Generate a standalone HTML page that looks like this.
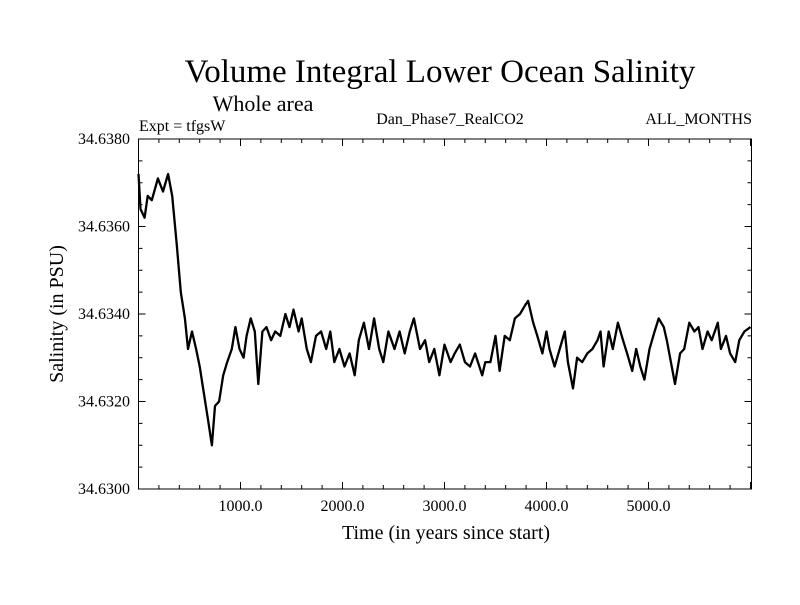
<!DOCTYPE html>
<html><head><meta charset="utf-8"><style>
body{margin:0;background:#fff}
svg text{font-family:"Liberation Serif",serif;fill:#000}
</style></head><body>
<svg width="800" height="600" viewBox="0 0 800 600" xmlns="http://www.w3.org/2000/svg">
<rect width="800" height="600" fill="#fff"/>
<text x="440" y="82" font-size="33" text-anchor="middle">Volume Integral Lower Ocean Salinity</text>
<text x="263" y="111" font-size="22" text-anchor="middle">Whole area</text>
<text x="139" y="131" font-size="16">Expt = tfgsW</text>
<text x="450" y="124" font-size="16" text-anchor="middle">Dan_Phase7_RealCO2</text>
<text x="752" y="124" font-size="16" text-anchor="end">ALL_MONTHS</text>
<text transform="translate(63,314) rotate(-90)" font-size="20" text-anchor="middle">Salinity (in PSU)</text>
<text x="446" y="539" font-size="20" text-anchor="middle">Time (in years since start)</text>
<g id="axes"></g>
<path id="series" fill="none" stroke="#000" stroke-width="2.3" stroke-linejoin="round"/>
<rect x="138.5" y="139" width="613" height="350" fill="none" stroke="#000" stroke-width="1"/>
</svg>
<script>
const years = [0,20,60,90,130,190,240,290,330,375,415,455,485,525,565,600,640,680,720,750,790,830,870,915,950,990,1030,1060,1100,1140,1175,1215,1255,1300,1340,1390,1440,1480,1520,1570,1600,1650,1690,1740,1790,1840,1880,1920,1970,2020,2070,2120,2160,2210,2260,2310,2360,2400,2450,2510,2560,2610,2660,2700,2760,2810,2850,2900,2950,3000,3060,3100,3150,3200,3250,3300,3370,3400,3450,3500,3540,3590,3640,3690,3740,3790,3820,3870,3910,3960,4000,4030,4080,4130,4180,4210,4260,4300,4350,4400,4450,4500,4530,4560,4610,4650,4700,4750,4790,4840,4880,4920,4960,5010,5060,5100,5150,5180,5220,5260,5310,5350,5400,5450,5490,5530,5580,5620,5680,5710,5760,5800,5850,5890,5940,6000];
const salinity = [34.6372,34.6364,34.6362,34.6367,34.6366,34.6371,34.6368,34.6372,34.6367,34.6356,34.6345,34.6339,34.6332,34.6336,34.6332,34.6328,34.6322,34.6316,34.6310,34.6319,34.6320,34.6326,34.6329,34.6332,34.6337,34.6332,34.6330,34.6335,34.6339,34.6336,34.6324,34.6336,34.6337,34.6334,34.6336,34.6335,34.6340,34.6337,34.6341,34.6336,34.6339,34.6332,34.6329,34.6335,34.6336,34.6332,34.6336,34.6329,34.6332,34.6328,34.6331,34.6326,34.6334,34.6338,34.6332,34.6339,34.6332,34.6329,34.6336,34.6332,34.6336,34.6331,34.6336,34.6339,34.6332,34.6334,34.6329,34.6332,34.6326,34.6333,34.6329,34.6331,34.6333,34.6329,34.6328,34.6331,34.6326,34.6329,34.6329,34.6335,34.6327,34.6335,34.6334,34.6339,34.6340,34.6342,34.6343,34.6338,34.6335,34.6331,34.6336,34.6332,34.6328,34.6332,34.6336,34.6329,34.6323,34.6330,34.6329,34.6331,34.6332,34.6334,34.6336,34.6328,34.6336,34.6332,34.6338,34.6334,34.6331,34.6327,34.6332,34.6328,34.6325,34.6332,34.6336,34.6339,34.6337,34.6334,34.6329,34.6324,34.6331,34.6332,34.6338,34.6336,34.6337,34.6332,34.6336,34.6334,34.6338,34.6332,34.6335,34.6331,34.6329,34.6334,34.6336,34.6337];
const xTicks = [1000,2000,3000,4000,5000];
const xTickLabels = ["1000.0","2000.0","3000.0","4000.0","5000.0"];
const yTicks = [34.630,34.632,34.634,34.636,34.638];
const yTickLabels = ["34.6300","34.6320","34.6340","34.6360","34.6380"];

const X0=138.5, X1=751.5, Y0=489, Y1=139, XMAX=6010, YMIN=34.630, YMAX=34.638;
const sx = t => X0 + t/XMAX*(X1-X0);
const sy = v => Y0 - (v-YMIN)/(YMAX-YMIN)*(Y0-Y1);
const NS="http://www.w3.org/2000/svg";
const axes=document.getElementById('axes');
function ln(x1,y1,x2,y2,name){const l=document.createElementNS(NS,'line');
l.setAttribute('x1',x1);l.setAttribute('y1',y1);l.setAttribute('x2',x2);l.setAttribute('y2',y2);
l.setAttribute('stroke','#000');l.setAttribute('stroke-width','1');


axes.appendChild(l);}
function tx(x,y,s,anchor,name){const t=document.createElementNS(NS,'text');
t.setAttribute('x',x);t.setAttribute('y',y);t.setAttribute('font-size','16');t.setAttribute('text-anchor',anchor);t.textContent=s;


axes.appendChild(t);}
for(let t=200;t<XMAX;t+=200){const major=t%1000===0;const L=major?7:4;const x=sx(t);
ln(x,Y0,x,Y0-L,'x-tick');ln(x,Y1,x,Y1+L,'x-tick-top');}
for(let v=0;v<=16;v++){const val=YMIN+v*0.0005;const major=v%4===0;const L=major?7:4;const y=sy(val);
ln(X0,y,X0+L,y,'y-tick');ln(X1,y,X1-L,y,'y-tick-right');}
xTicks.forEach((t,i)=>tx(sx(t),511,xTickLabels[i],'middle','x-tick-label'));
yTicks.forEach((v,i)=>tx(130,sy(v)+5,yTickLabels[i],'end','y-tick-label'));
document.getElementById('series').setAttribute('d',years.map((t,i)=>(i?'L':'M')+sx(t).toFixed(1)+' '+sy(salinity[i]).toFixed(1)).join(' '));
</script>
</body></html>
